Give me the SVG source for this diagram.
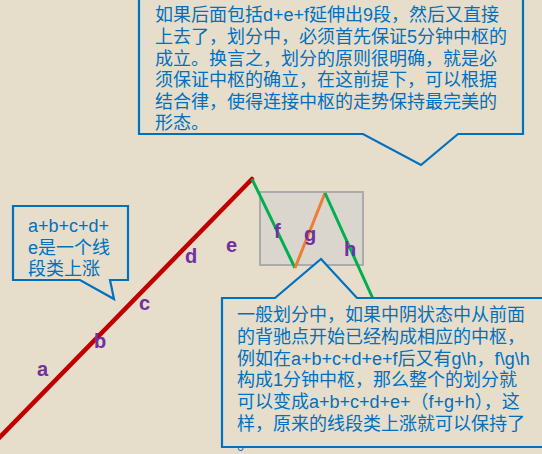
<svg xmlns="http://www.w3.org/2000/svg" width="542" height="454" viewBox="0 0 542 454">
<style>
.bg{fill:#E6DECA}
.callout{fill:#E6DECA;stroke:#0070C0;stroke-width:2.2;stroke-linejoin:miter}
.ct{font-family:"Liberation Sans","Noto Sans CJK SC",sans-serif;font-size:18px;fill:#0070C0}
.lbl{font-family:"Liberation Sans","Noto Sans CJK SC",sans-serif;font-size:20px;font-weight:bold;fill:#7030A0}
.red{stroke:#C00000;stroke-width:4.5;fill:none;stroke-linecap:round}
.grn{stroke:#00B050;stroke-width:3;fill:none}
.org{stroke:#ED7D31;stroke-width:3;fill:none}
</style>
<rect class="bg" x="0" y="0" width="542" height="454"/>
<g id="zhongshu-box">
<rect x="260" y="192" width="103" height="73" fill="#DAD6CD" stroke="#ABABAB" stroke-width="2"/>
</g>
<g id="connectors">
<line class="red" x1="-4" y1="441" x2="252" y2="179"/>
<line class="grn" x1="252" y1="179" x2="295" y2="268"/>
<line class="org" x1="295" y1="268" x2="325" y2="193"/>
<line class="grn" x1="325" y1="193" x2="374" y2="301"/>
</g>
<g id="labels">
<text class="lbl" x="37" y="376">a</text>
<text class="lbl" x="94" y="348">b</text>
<text class="lbl" x="139" y="310">c</text>
<text class="lbl" x="185" y="263">d</text>
<text class="lbl" x="226" y="252">e</text>
<text class="lbl" x="274" y="238">f</text>
<text class="lbl" x="304" y="241">g</text>
<text class="lbl" x="344" y="256">h</text>
</g>
<g id="callout-top">
<path class="callout" d="M139,-3 V134 H363 L421,165 L458,134 H523 V-3"/>
<text class="ct" x="155" y="21">如果后面包括d+e+f延伸出9段，然后又直接</text>
<text class="ct" x="155" y="43">上去了，划分中，必须首先保证5分钟中枢的</text>
<text class="ct" x="155" y="65">成立。换言之，划分的原则很明确，就是必</text>
<text class="ct" x="155" y="86">须保证中枢的确立，在这前提下，可以根据</text>
<text class="ct" x="155" y="108">结合律，使得连接中枢的走势保持最完美的</text>
<text class="ct" x="155" y="129">形态。</text>
</g>
<g id="callout-left">
<path class="callout" d="M13,206 H128 V280 H110 L114,299 L80,280 H13 Z"/>
<text class="ct" x="28" y="232">a+b+c+d+</text>
<text class="ct" x="28" y="254">e是一个线</text>
<text class="ct" x="28" y="275">段类上涨</text>
</g>
<g id="callout-bottom">
<path class="callout" d="M222,298 H275 L321,259 L357,298 H546 V447 H222 Z"/>
<text class="ct" x="237" y="321">一般划分中，如果中阴状态中从前面</text>
<text class="ct" x="237" y="343">的背驰点开始已经构成相应的中枢，</text>
<text class="ct" x="237" y="365">例如在a+b+c+d+e+f后又有g\h，f\g\h</text>
<text class="ct" x="237" y="386">构成1分钟中枢，那么整个的划分就</text>
<text class="ct" x="237" y="408">可以变成a+b+c+d+e+（f+g+h），这</text>
<text class="ct" x="237" y="430">样，原来的线段类上涨就可以保持了</text>
<text class="ct" x="237" y="450">。</text>
</g>
</svg>
